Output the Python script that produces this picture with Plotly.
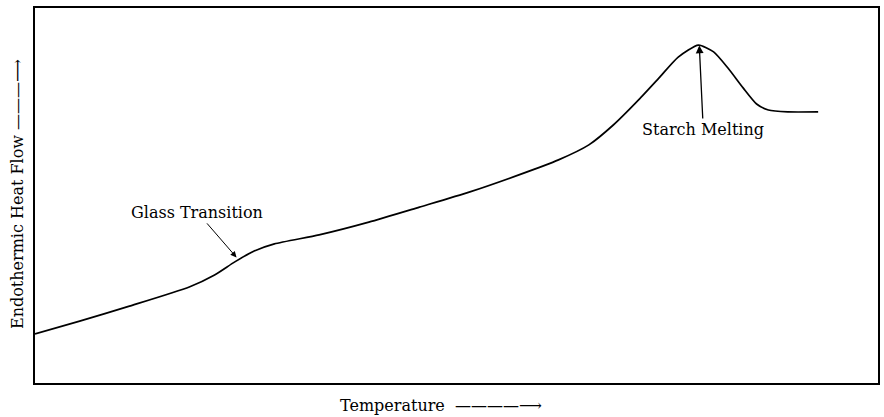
import plotly.graph_objects as go

# DSC thermogram (arbitrary units)
temperature = [0, 5.3, 11.2, 18.3, 21.3, 23.7, 26.0, 28.4, 33.7, 39.6, 45.6, 51.5, 57.4,
               62.1, 65.7, 68.6, 71.6, 74.0, 76.3, 78.7, 80.5, 82.2, 84.0, 85.6, 87.0, 89.3, 92.9]
heat_flow = [13.1, 16.5, 20.5, 25.6, 28.8, 32.3, 35.2, 37.1, 39.5, 42.9, 46.9, 50.9, 55.5,
             59.5, 63.5, 68.8, 75.5, 81.3, 86.9, 90.1, 88.3, 84.0, 78.7, 74.4, 72.8, 72.3, 72.3]

glass_label = "Glass Transition"
glass_point = (23.9, 33.5)
melt_label = "Starch Melting"
melt_point = (78.8, 90.0)
x_title = "Temperature  ————⟶"
y_title = "Endothermic Heat Flow ———⟶"

FONT = "DejaVu Serif"
FS = 16

fig = go.Figure()
fig.add_trace(go.Scatter(x=temperature, y=heat_flow, mode="lines",
                         line=dict(color="black", width=1.7, shape="spline", smoothing=0.6),
                         hoverinfo="skip", showlegend=False))

fig.add_annotation(x=glass_point[0], y=glass_point[1], xref="x", yref="y",
                   text=glass_label, showarrow=True, arrowhead=2, arrowsize=1.2,
                   arrowwidth=1, arrowcolor="black", ax=-39, ay=-45,
                   font=dict(family=FONT, size=FS, color="black"))
fig.add_annotation(x=melt_point[0], y=melt_point[1], xref="x", yref="y",
                   text=melt_label, showarrow=True, arrowhead=2, arrowsize=1.2,
                   arrowwidth=1.3, arrowcolor="black", ax=4, ay=84,
                   font=dict(family=FONT, size=FS, color="black"))

fig.add_annotation(xref="paper", yref="paper", x=(442 - 35) / 845, y=-(405 - 383) / 375,
                   xanchor="center", yanchor="middle",
                   text=x_title, showarrow=False,
                   font=dict(family=FONT, size=FS, color="black"))
fig.add_annotation(xref="paper", yref="paper", x=-(35 - 17) / 845, y=(383 - 194) / 375,
                   xanchor="center", yanchor="middle",
                   text=y_title, textangle=-90, showarrow=False,
                   font=dict(family=FONT, size=FS, color="black"))

fig.update_layout(
    width=884, height=417,
    margin=dict(l=35, r=4, t=8, b=34),
    paper_bgcolor="white", plot_bgcolor="white",
    xaxis=dict(range=[0, 100], showgrid=False, zeroline=False, showticklabels=False,
               ticks="", showline=True, linecolor="black", linewidth=2, mirror=True),
    yaxis=dict(range=[0, 100], showgrid=False, zeroline=False, showticklabels=False,
               ticks="", showline=True, linecolor="black", linewidth=2, mirror=True),
)

fig.write_html("out.html")
